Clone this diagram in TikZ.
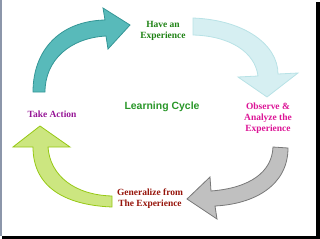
\documentclass[tikz,border=0pt]{standalone}
\usepackage{fontspec}
\setmainfont{Liberation Serif}
\setsansfont{Liberation Sans}
\usetikzlibrary{positioning}

\definecolor{tealfill}{RGB}{88,186,186}
\definecolor{tealline}{RGB}{52,150,150}
\definecolor{iceline}{RGB}{184,226,230}
\definecolor{icefill}{RGB}{214,239,242}
\definecolor{greyfill}{RGB}{192,192,192}
\definecolor{greyline}{RGB}{120,120,120}
\definecolor{limefill}{RGB}{204,230,128}
\definecolor{limeline}{RGB}{150,200,20}
\definecolor{txtgreen}{RGB}{30,130,20}
\definecolor{txtmagenta}{RGB}{220,20,150}
\definecolor{txtred}{RGB}{150,20,10}
\definecolor{txtpurple}{RGB}{150,20,150}
\definecolor{titlegreen}{RGB}{40,150,40}
\definecolor{framegrey}{RGB}{140,150,170}

\tikzset{
  steplabel/.style={font=\fontsize{9.5}{11.3}\selectfont\bfseries, align=center, inner sep=0pt},
  bentarrow/.style={line width=0.8bp, line join=miter}
}

\begin{document}
\begin{tikzpicture}[x=1bp, y=-1bp]
      % 1. 邊框與陰影
      \useasboundingbox (0,0) rectangle (320,239);
      \fill[black] (316,2) rectangle (320,239);
      \fill[black] (2,236) rectangle (320,239);
      \fill[framegrey] (0,0) rectangle (2,236);

      % 2. 左上箭頭 (Take Action -> Have an Experience)
      \draw[bentarrow, fill=tealfill, draw=tealline]
        (33,92) .. controls (33,50) and (60,21) .. (105,20)
        -- (103,8) -- (130,25) -- (108,49) -- (106,36)
        .. controls (70,38) and (45,60) .. (45,92) -- cycle;

      % 3. 右上箭頭 (Have an Experience -> Observe)
      \draw[bentarrow, fill=icefill, draw=iceline]
        (193,18) .. controls (245,20) and (278,45) .. (278,74)
        -- (298,73) -- (267,97) -- (238,77) -- (258,76)
        .. controls (255,52) and (230,36) .. (193,35) -- cycle;

      % 4. 右下箭頭 (Observe -> Generalize)
      \draw[bentarrow, fill=greyfill, draw=greyline]
        (288,148) .. controls (288,185) and (255,204) .. (215,206)
        -- (217,219) -- (187,199) -- (210,177) -- (211,191)
        .. controls (250,188) and (272,172) .. (273,147) -- cycle;

      % 5. 左下箭頭 (Generalize -> Take Action)
      \draw[bentarrow, fill=limefill, draw=limeline]
        (112,207) .. controls (62,205) and (33,185) .. (33,147)
        -- (13,147) -- (40,126) -- (70,147) -- (48,147)
        .. controls (50,176) and (75,195) .. (112,196) -- cycle;

      % 6. 文字
      \node[steplabel, text=txtgreen] (have) at (163,31) {Have an\\Experience};
      \node[steplabel, text=txtmagenta] (observe) at (268,118) {Observe \&\\Analyze the\\Experience};
      \node[steplabel, text=txtred] (general) at (150,199) {Generalize from\\The Experience};
      \node[steplabel, text=txtpurple] (action) at (52,114) {Take Action};
      \node[font=\fontsize{10.5}{12}\selectfont\sffamily\bfseries, text=titlegreen, inner sep=0pt]
        (title) at (162,107) {Learning Cycle};
    \end{tikzpicture}
\end{document}
